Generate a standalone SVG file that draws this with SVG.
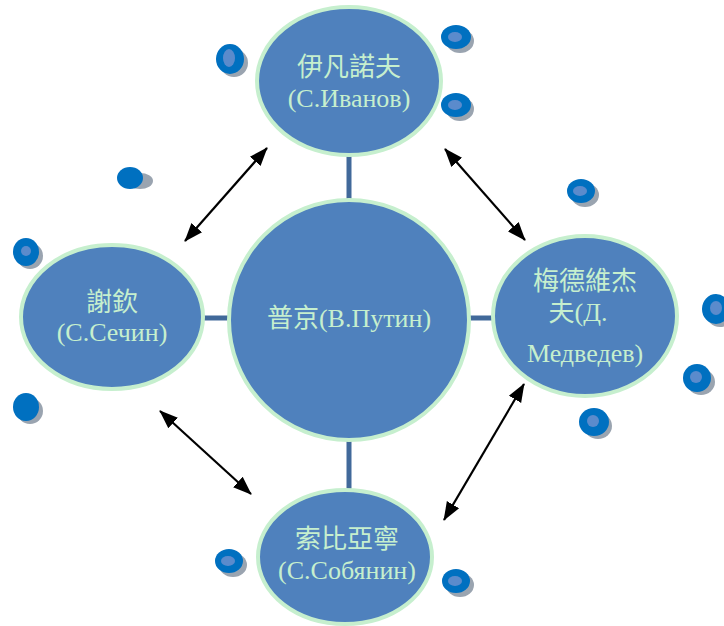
<svg xmlns="http://www.w3.org/2000/svg" width="724" height="626" viewBox="0 0 724 626">
<style>
.node{fill:#4f81bd;stroke:#c6efce;stroke-width:4}
.bar{stroke:#41699a;stroke-width:5}
.arr{stroke:#000;stroke-width:2.2;fill:none;marker-start:url(#ah);marker-end:url(#ah)}
.t{font-family:"Liberation Serif","Noto Sans CJK TC",serif;font-size:26px;fill:#c6efce;text-anchor:middle}
.dot{fill:#0070c0}
.in{fill:#5b8bcc}
.sh{fill:#9aa4b0}
</style>
<defs>
<marker id="ah" viewBox="0 0 10 10" refX="9.5" refY="5" markerWidth="8.5" markerHeight="8.5" markerUnits="strokeWidth" orient="auto-start-reverse">
<path d="M0,1.2 L10,5 L0,8.8 z" fill="#000"/>
</marker>
</defs>
<g id="decor">
<g><ellipse class="sh" cx="234" cy="63" rx="14" ry="14"/><ellipse class="dot" cx="230" cy="59" rx="14" ry="15"/><ellipse class="in" cx="229" cy="58" rx="6" ry="9"/></g>
<g><ellipse class="sh" cx="460" cy="41" rx="14" ry="12"/><ellipse class="dot" cx="456" cy="37" rx="15" ry="12"/><ellipse class="in" cx="455" cy="37" rx="7" ry="5"/></g>
<g><ellipse class="sh" cx="460" cy="109" rx="14" ry="12"/><ellipse class="dot" cx="456" cy="105" rx="15" ry="12"/><ellipse class="in" cx="455" cy="105" rx="7" ry="5"/></g>
<g><ellipse class="sh" cx="140" cy="181" rx="13" ry="8"/><ellipse class="dot" cx="130" cy="178" rx="13" ry="11"/></g>
<g><ellipse class="sh" cx="585" cy="195" rx="14" ry="12"/><ellipse class="dot" cx="581" cy="191" rx="14" ry="12"/><ellipse class="in" cx="580" cy="191" rx="7" ry="5"/></g>
<g><ellipse class="sh" cx="30" cy="256" rx="13" ry="13"/><ellipse class="dot" cx="26" cy="252" rx="13" ry="14"/><circle class="in" cx="26" cy="251" r="5"/></g>
<g><ellipse class="sh" cx="30" cy="411" rx="13" ry="13"/><ellipse class="dot" cx="26" cy="407" rx="13" ry="14"/></g>
<g><ellipse class="sh" cx="720" cy="313" rx="14" ry="14"/><ellipse class="dot" cx="716" cy="309" rx="14" ry="15"/><ellipse class="in" cx="716" cy="308" rx="6" ry="7"/></g>
<g><ellipse class="sh" cx="701" cy="382" rx="14" ry="13"/><ellipse class="dot" cx="697" cy="378" rx="14" ry="14"/><circle class="in" cx="696" cy="377" r="6"/></g>
<g><ellipse class="sh" cx="598" cy="426" rx="14" ry="13"/><ellipse class="dot" cx="594" cy="422" rx="15" ry="14"/><circle class="in" cx="593" cy="421" r="6"/></g>
<g><ellipse class="sh" cx="233" cy="565" rx="14" ry="12"/><ellipse class="dot" cx="229" cy="561" rx="14" ry="12"/><ellipse class="in" cx="228" cy="561" rx="7" ry="5"/></g>
<g><ellipse class="sh" cx="460" cy="585" rx="14" ry="12"/><ellipse class="dot" cx="456" cy="581" rx="14" ry="12"/><ellipse class="in" cx="455" cy="581" rx="7" ry="5"/></g>
</g>
<g id="connectors">
<line class="bar" x1="349" y1="154" x2="349" y2="202"/>
<line class="bar" x1="204" y1="318" x2="230" y2="318"/>
<line class="bar" x1="468" y1="318" x2="494" y2="318"/>
<line class="bar" x1="349" y1="438" x2="349" y2="492"/>
<line class="arr" x1="185" y1="241" x2="267" y2="148"/>
<line class="arr" x1="445" y1="149" x2="525" y2="240"/>
<line class="arr" x1="160" y1="411" x2="251" y2="494"/>
<line class="arr" x1="524" y1="384" x2="444" y2="520"/>
</g>
<g id="center">
<circle class="node" cx="349" cy="320" r="120"/>
<text class="t" x="349" y="327">普京(В.Путин)</text>
</g>
<g id="top">
<ellipse class="node" cx="349" cy="81" rx="92" ry="74"/>
<text class="t" x="349" y="76">伊凡諾夫</text>
<text class="t" x="349" y="107">(С.Иванов)</text>
</g>
<g id="left">
<ellipse class="node" cx="112" cy="317" rx="91" ry="72"/>
<text class="t" x="112" y="311">謝欽</text>
<text class="t" x="112" y="341">(С.Сечин)</text>
</g>
<g id="right">
<ellipse class="node" cx="585" cy="316" rx="92" ry="80"/>
<text class="t" x="585" y="290">梅德維杰</text>
<text class="t" x="578" y="321">夫(Д.</text>
<text class="t" x="585" y="362">Медведев)</text>
</g>
<g id="bottom">
<ellipse class="node" cx="345" cy="557" rx="87" ry="67"/>
<text class="t" x="347" y="548">索比亞寧</text>
<text class="t" x="347" y="579">(С.Собянин)</text>
</g>
</svg>
